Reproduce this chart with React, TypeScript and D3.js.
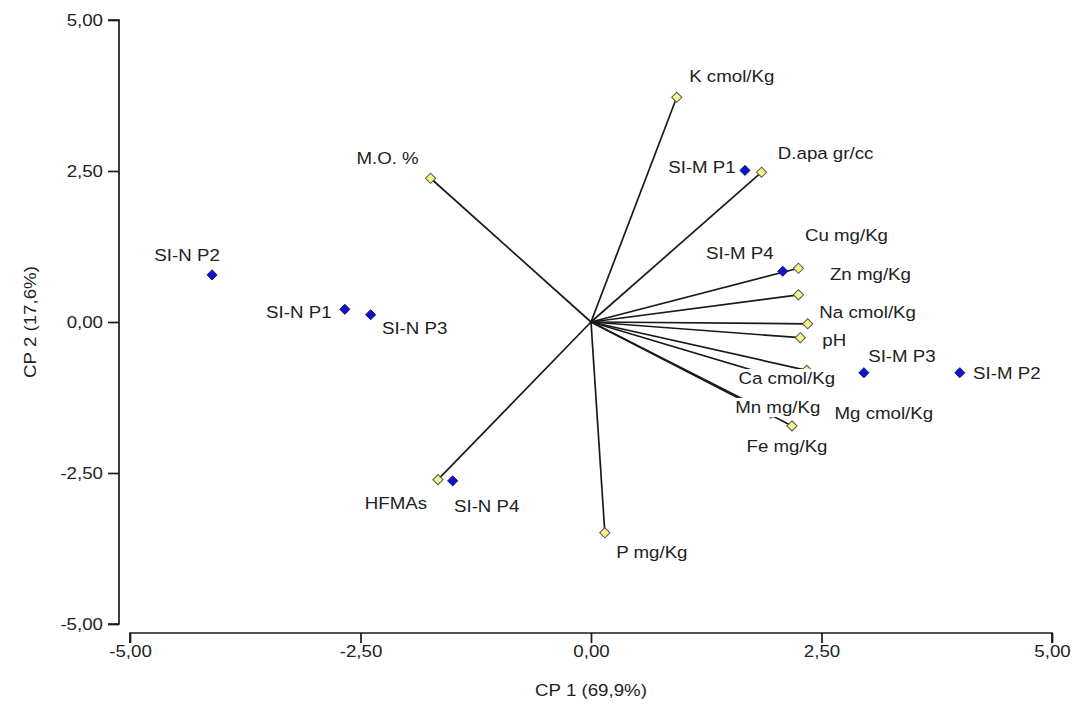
import React, { useEffect, useRef } from 'react';
import * as d3 from 'd3';

// sample scores (CP1, CP2)
const obsNames = ['SI-N P1', 'SI-N P2', 'SI-N P3', 'SI-N P4', 'SI-M P1', 'SI-M P2', 'SI-M P3', 'SI-M P4'];
const obsCp1 = [-2.67, -4.11, -2.39, -1.50, 1.67, 4.00, 2.96, 2.08];
const obsCp2 = [0.21, 0.78, 0.12, -2.63, 2.51, -0.84, -0.84, 0.84];

// variable loadings (CP1, CP2)
const varNames = ['K cmol/Kg', 'D.apa gr/cc', 'M.O. %', 'Cu mg/Kg', 'Zn mg/Kg', 'Na cmol/Kg', 'pH',
  'Ca cmol/Kg', 'Mg cmol/Kg', 'Mn mg/Kg', 'Fe mg/Kg', 'P mg/Kg', 'HFMAs'];
const varCp1 = [0.93, 1.85, -1.74, 2.25, 2.25, 2.35, 2.27, 2.34, 2.20, 1.95, 2.18, 0.15, -1.66];
const varCp2 = [3.72, 2.48, 2.38, 0.89, 0.45, -0.03, -0.26, -0.80, -1.00, -1.51, -1.72, -3.49, -2.61];

const ticks = [-5, -2.5, 0, 2.5, 5];

// label placement, pixels from the marker
const labelOffsets: Record<string, [number, number]> = {
  'SI-N P1': [-46, 3], 'SI-N P2': [-25, -20], 'SI-N P3': [44, 13], 'SI-N P4': [34, 25],
  'SI-M P1': [-43, -3], 'SI-M P2': [47, 0], 'SI-M P3': [38, -17], 'SI-M P4': [-43, -18],
  'K cmol/Kg': [55, -21], 'D.apa gr/cc': [64, -19], 'M.O. %': [-43, -20], 'Cu mg/Kg': [48, -33],
  'Zn mg/Kg': [72, -21], 'Na cmol/Kg': [60, -12], 'pH': [34, 2], 'Ca cmol/Kg': [-20, 8],
  'Mg cmol/Kg': [90, 31], 'Mn mg/Kg': [7, -6], 'Fe mg/Kg': [-5, 20], 'P mg/Kg': [47, 19],
  'HFMAs': [-42, 23],
};

const fmt = (v: number) => v.toFixed(2).replace('.', ',');

export default function App() {
  const ref = useRef<SVGSVGElement>(null);

  useEffect(() => {
    const svg = d3.select(ref.current);
    svg.selectAll('*').remove();

    const x = d3.scaleLinear().domain([-5, 5]).range([130, 1052]);
    const y = d3.scaleLinear().domain([-5, 5]).range([624, 20]);
    const font = '"Liberation Sans", Arial, sans-serif';
    const textColor = '#222';

    // y axis
    const yAxis = svg.append('g').attr('transform', 'translate(119,0)')
      .call(d3.axisLeft(y).tickValues(ticks).tickFormat(d => fmt(+d)).tickSize(11).tickPadding(5));
    yAxis.select('.domain').attr('d', `M-11,${y(5)}H0V${y(-5)}H-11`);
    // x axis
    const xAxis = svg.append('g').attr('transform', 'translate(0,633)')
      .call(d3.axisBottom(x).tickValues(ticks).tickFormat(d => fmt(+d)).tickSize(10).tickPadding(2));
    xAxis.select('.domain').attr('d', `M${x(-5)},10V0H${x(5)}V10`);

    svg.selectAll('.tick line, .domain').attr('stroke', '#1a1a1a').attr('stroke-width', 1.7);
    svg.selectAll('.tick text').attr('fill', textColor).attr('font-size', 17)
      .attr('font-family', font).attr('transform', 'scale(1.1,1)')
      .each(function () {
        const t = d3.select(this);
        t.attr('x', (+t.attr('x') || 0) / 1.1);
      });
    yAxis.selectAll('.tick text').attr('x', -16 / 1.1);

    // axis titles
    svg.append('text').text('CP 1 (69,9%)').attr('font-family', font).attr('font-size', 17)
      .attr('fill', textColor).attr('text-anchor', 'middle')
      .attr('transform', `translate(${x(0)},696) scale(1.1,1)`);
    svg.append('text').text('CP 2 (17,6%)').attr('font-family', font).attr('font-size', 17)
      .attr('fill', textColor).attr('text-anchor', 'middle')
      .attr('transform', `translate(36,${y(0)}) rotate(-90) scale(1.1,1)`);

    const vars = varNames.map((n, i) => ({ name: n, px: x(varCp1[i]), py: y(varCp2[i]) }));
    const obs = obsNames.map((n, i) => ({ name: n, px: x(obsCp1[i]), py: y(obsCp2[i]) }));

    // vectors
    svg.append('g').selectAll('line').data(vars).enter().append('line')
      .attr('x1', x(0)).attr('y1', y(0))
      .attr('x2', d => d.px).attr('y2', d => d.py)
      .attr('stroke', '#1a1a1a').attr('stroke-width', 1.7);

    const diamond = d3.symbol().type(d3.symbolSquare).size(52);
    svg.append('g').selectAll('path').data(vars).enter().append('path')
      .attr('d', diamond as any)
      .attr('transform', d => `translate(${d.px},${d.py}) rotate(45)`)
      .attr('fill', '#f7f28a').attr('stroke', '#555').attr('stroke-width', 1);
    svg.append('g').selectAll('path').data(obs).enter().append('path')
      .attr('d', diamond as any)
      .attr('transform', d => `translate(${d.px},${d.py}) rotate(45)`)
      .attr('fill', '#1212c8').attr('stroke', '#0a0a7a').attr('stroke-width', 0.8);

    // labels with white background
    const labels = svg.append('g').selectAll('g').data([...vars, ...obs]).enter().append('g')
      .attr('transform', d => {
        const o = labelOffsets[d.name] || [0, 0];
        return `translate(${d.px + o[0]},${d.py + o[1]}) scale(1.1,1)`;
      });
    labels.append('rect').attr('fill', 'white');
    labels.append('text').text(d => d.name)
      .attr('text-anchor', 'middle').attr('dy', '0.35em')
      .attr('font-family', font).attr('font-size', 17).attr('fill', textColor);
    labels.each(function () {
      const g = d3.select(this);
      const bb = (g.select('text').node() as SVGTextElement).getBBox();
      g.select('rect').attr('x', bb.x - 1).attr('y', bb.y)
        .attr('width', bb.width + 2).attr('height', bb.height);
    });
  }, []);

  return (
    <svg ref={ref} width={1078} height={706}
      style={{ position: 'absolute', left: 0, top: 0, background: 'white' }} />
  );
}
